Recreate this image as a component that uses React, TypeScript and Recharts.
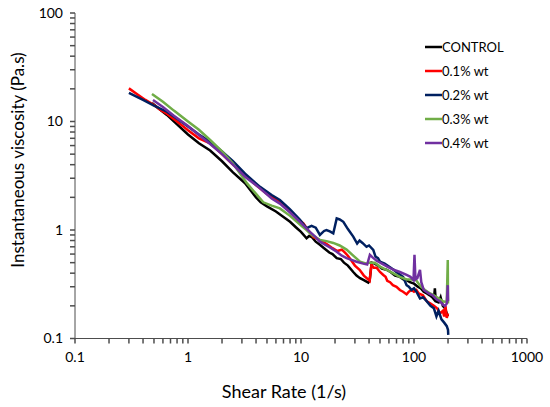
import React from "react";
import { LineChart, Line, XAxis, YAxis } from "recharts";

// shear rate (1/s) vs instantaneous viscosity (Pa.s)
const control = [
  [0.48, 14.8], [0.55, 13.2], [0.65, 11.5], [0.8, 9.4], [1.0, 7.6], [1.25, 6.3],
  [1.57, 5.4], [2.0, 4.3], [2.5, 3.4], [3.2, 2.7], [4.0, 2.0], [4.4, 1.8],
  [5.0, 1.65], [6.0, 1.48], [7.0, 1.32], [8.0, 1.19], [9.0, 1.06], [10.0, 0.96],
  [11.2, 0.84], [11.8, 0.88], [12.5, 0.86], [13.5, 0.78], [14.7, 0.73], [16.0, 0.68],
  [17.8, 0.62], [19.0, 0.6], [20.7, 0.55], [22.5, 0.54], [24.0, 0.5], [26.0, 0.47],
  [29.0, 0.41], [31.0, 0.38], [33.3, 0.36], [36.0, 0.345], [39.4, 0.327], [40.5, 0.34],
  [42.2, 0.5], [45, 0.49], [48, 0.47], [52, 0.44], [57, 0.43], [62, 0.41],
  [68, 0.38], [75, 0.37], [81, 0.35], [86, 0.345], [92, 0.33], [100, 0.32],
  [108, 0.3], [115, 0.29], [122, 0.27], [130, 0.26], [138, 0.25], [145, 0.24],
  [150, 0.23], [153, 0.29], [156, 0.22], [165, 0.215], [172, 0.24], [180, 0.2],
  [188, 0.19], [195, 0.17], [200, 0.16],
];

const wt01 = [
  [0.3, 20.2], [0.35, 18.0], [0.42, 15.8], [0.5, 14.2], [0.57, 12.8], [0.65, 11.8],
  [0.8, 10.0], [1.0, 8.3], [1.25, 7.0], [1.57, 6.3], [2.0, 5.0], [2.5, 4.0],
  [3.2, 3.2], [4.0, 2.6], [5.0, 2.15], [6.5, 1.8], [8.0, 1.5], [9.5, 1.25],
  [10.5, 1.15], [11.5, 1.0], [12.9, 0.86], [14, 0.83], [15.5, 0.78], [17, 0.74],
  [19, 0.68], [21, 0.64], [23, 0.66], [24.5, 0.62], [26, 0.58], [28, 0.52],
  [30, 0.47], [33, 0.43], [36, 0.38], [39.4, 0.35], [40.5, 0.34], [42, 0.48],
  [44, 0.45], [46.7, 0.45], [50, 0.41], [53.5, 0.385], [56, 0.37], [58, 0.34],
  [61.4, 0.33], [65, 0.31], [70, 0.3], [75, 0.28], [80, 0.27], [86, 0.255],
  [90, 0.27], [95, 0.28], [100, 0.27], [105, 0.28], [110, 0.26], [120, 0.25],
  [130, 0.22], [140, 0.21], [150, 0.2], [160, 0.19], [170, 0.17], [180, 0.18],
  [185, 0.16], [190, 0.2], [195, 0.155], [200, 0.17],
];

const wt02 = [
  [0.3, 18.4], [0.4, 15.8], [0.5, 14.0], [0.65, 12.3], [0.8, 10.6], [1.0, 9.0],
  [1.25, 7.6], [1.57, 6.5], [2.0, 5.3], [2.5, 4.3], [3.2, 3.3], [4.34, 2.5],
  [5.5, 2.1], [6.5, 1.89], [8.0, 1.55], [9.8, 1.24], [11.2, 1.04], [12.4, 1.09],
  [13.5, 1.05], [14.7, 0.9], [16.0, 0.98], [16.8, 1.0], [18, 0.97], [19.3, 0.93],
  [20.7, 1.28], [22, 1.25], [23.7, 1.19], [26, 1.02], [29, 0.87], [31.4, 0.75],
  [33, 0.8], [35, 0.76], [38, 0.7], [40, 0.72], [43.6, 0.655], [45.6, 0.57],
  [48, 0.55], [50, 0.51], [55, 0.49], [60, 0.46], [66, 0.43], [72, 0.4],
  [80, 0.37], [86, 0.31], [90, 0.3], [95, 0.28], [100, 0.29], [105, 0.27],
  [113, 0.234], [120, 0.24], [130, 0.22], [140, 0.2], [150, 0.19], [158, 0.16],
  [165, 0.18], [175, 0.15], [185, 0.14], [195, 0.13], [200, 0.12], [201, 0.108],
];

const wt03 = [
  [0.48, 17.9], [0.6, 15.2], [0.75, 12.6], [1.0, 10.0], [1.25, 8.4], [1.57, 6.75],
  [2.0, 5.3], [2.5, 4.1], [3.33, 2.69], [4.0, 2.15], [4.64, 1.8], [5.5, 1.68],
  [6.5, 1.58], [8.0, 1.35], [9.2, 1.19], [10.2, 1.08], [11.2, 1.0], [12.5, 0.9],
  [14.7, 0.81], [16.8, 0.79], [19.3, 0.76], [22, 0.72], [25.3, 0.66], [29, 0.58],
  [33.3, 0.51], [38, 0.49], [40, 0.5], [45, 0.5], [50, 0.46], [57, 0.43],
  [65, 0.4], [75, 0.37], [86, 0.35], [95, 0.35], [104, 0.346], [115, 0.3],
  [125, 0.28], [139, 0.26], [150, 0.25], [165, 0.235], [180, 0.22], [188, 0.218],
  [195, 0.22], [199, 0.53], [200, 0.21],
];

const wt04 = [
  [0.49, 15.8], [0.6, 13.6], [0.75, 11.3], [1.0, 9.1], [1.25, 7.5], [1.57, 6.2],
  [2.0, 5.0], [2.5, 4.0], [3.2, 3.1], [4.34, 2.42], [5.5, 1.95], [6.5, 1.75],
  [8.0, 1.45], [9.8, 1.19], [11, 1.05], [12, 0.96], [13.5, 0.86], [14.7, 0.78],
  [16.8, 0.72], [18.5, 0.68], [20.7, 0.63], [23, 0.58], [25.3, 0.55], [28, 0.53],
  [31, 0.51], [35.6, 0.49], [38.5, 0.48], [40.7, 0.59], [43, 0.56], [46.7, 0.52],
  [52, 0.49], [58, 0.46], [66, 0.43], [75, 0.41], [86, 0.385], [93, 0.37],
  [99, 0.346], [101, 0.59], [103, 0.35], [107, 0.36], [113, 0.43], [116, 0.33],
  [122, 0.28], [135, 0.26], [146, 0.25], [158, 0.23], [170, 0.22], [180, 0.205],
  [188, 0.2], [195, 0.21], [199, 0.31], [200, 0.22],
];

const seriesNames = ["CONTROL", "0.1% wt", "0.2% wt", "0.3% wt", "0.4% wt"];
const seriesColors = ["#000000", "#ff0000", "#002060", "#70ad47", "#7030a0"];
const seriesData = [control, wt01, wt02, wt03, wt04];

const xTicks = [
  0.1, 0.2, 0.3, 0.4, 0.5, 0.6, 0.7, 0.8, 0.9,
  1, 2, 3, 4, 5, 6, 7, 8, 9,
  10, 20, 30, 40, 50, 60, 70, 80, 90,
  100, 200, 300, 400, 500, 600, 700, 800, 900,
  1000,
];
const yTicks = [
  0.1, 0.2, 0.3, 0.4, 0.5, 0.6, 0.7, 0.8, 0.9,
  1, 2, 3, 4, 5, 6, 7, 8, 9,
  10, 20, 30, 40, 50, 60, 70, 80, 90,
  100,
];
const majorTicks = [0.1, 1, 10, 100, 1000];

const font = "Lato, 'Open Sans', sans-serif";
const axisGrey = "#4d4d4d";

const fmt = (v: number) => (majorTicks.includes(v) ? String(v) : "");

const toRows = (pts: number[][]) => pts.map(([x, y]) => ({ x, y }));

function LegendBox() {
  return (
    <div
      style={{
        position: "absolute",
        left: 425,
        top: 35,
        fontFamily: font,
        fontSize: 13,
        color: "#000",
      }}
    >
      {seriesNames.map((name, i) => (
        <div key={name} style={{ height: 24, display: "flex", alignItems: "center" }}>
          <svg width={17} height={4} style={{ display: "block" }}>
            <line x1={0} y1={2} x2={17} y2={2} stroke={seriesColors[i]} strokeWidth={2.5} />
          </svg>
          <span>{name}</span>
        </div>
      ))}
    </div>
  );
}

export default function App() {
  return (
    <div style={{ position: "absolute", left: 0, top: 0, width: 550, height: 407, background: "#fff" }}>
      <LineChart width={550} height={407} margin={{ top: 13, right: 23, bottom: 0, left: 0 }}>
        <XAxis
          type="number"
          dataKey="x"
          scale="log"
          domain={[0.1, 1000]}
          allowDataOverflow
          ticks={xTicks}
          interval={0}
          tickFormatter={fmt}
          height={68.5}
          tickSize={5}
          tickMargin={9}
          stroke={axisGrey}
          tickLine={{ stroke: axisGrey, strokeWidth: 1.5 }}
          tick={{ fill: "#000", fontSize: 14, fontFamily: font }}
          label={{
            content: () => (
              <text x={284} y={398} textAnchor="middle" fontSize={18} fontFamily={font} fill="#000">
                Shear Rate (1/s)
              </text>
            ),
          }}
        />
        <YAxis
          type="number"
          dataKey="y"
          scale="log"
          domain={[0.1, 100]}
          allowDataOverflow
          ticks={yTicks}
          interval={0}
          tickFormatter={fmt}
          width={75}
          tickSize={5}
          tickMargin={7}
          stroke={axisGrey}
          tickLine={{ stroke: axisGrey, strokeWidth: 1.5 }}
          tick={{ fill: "#000", fontSize: 14, fontFamily: font }}
          label={{
            content: () => (
              <text
                x={24}
                y={160}
                transform="rotate(-90 24 160)"
                textAnchor="middle"
                fontSize={17}
                fontFamily={font}
                fill="#000"
              >
                Instantaneous viscosity (Pa.s)
              </text>
            ),
          }}
        />
        {seriesData.map((pts, i) => (
          <Line
            key={seriesNames[i]}
            data={toRows(pts)}
            dataKey="y"
            name={seriesNames[i]}
            type="linear"
            stroke={seriesColors[i]}
            strokeWidth={2.5}
            dot={false}
            activeDot={false}
            isAnimationActive={false}
          />
        ))}
      </LineChart>
      <LegendBox />
    </div>
  );
}
